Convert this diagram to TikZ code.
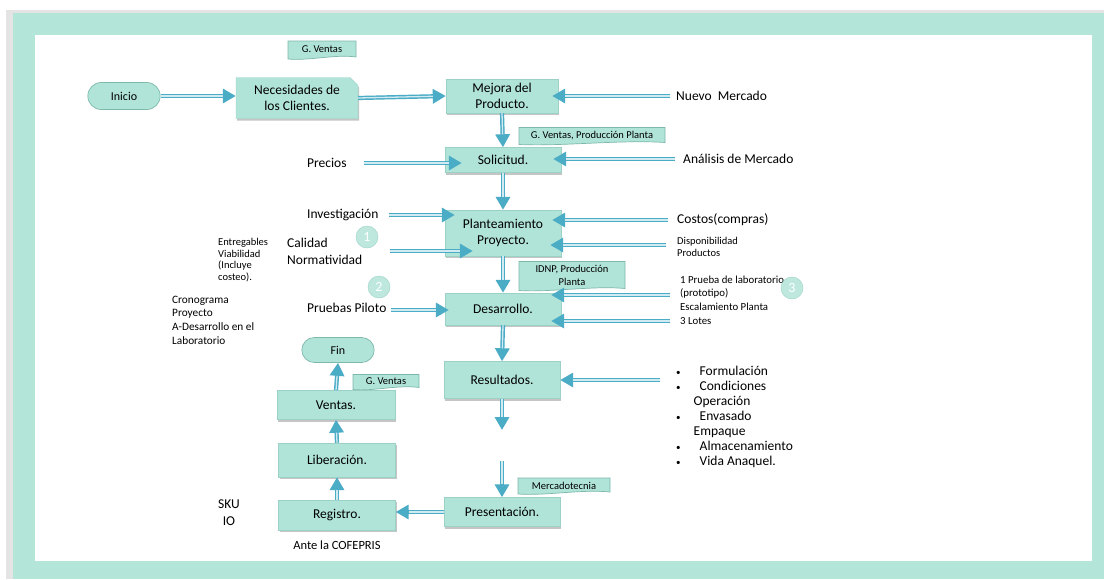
\documentclass[tikz,border=0pt]{standalone}
\usepackage{fontspec}
\setmainfont{Carlito}
\usetikzlibrary{arrows.meta, shadows, shapes.misc, calc}

\definecolor{frameteal}{HTML}{B3E5D9}
\definecolor{framegray}{HTML}{E4E4E4}
\definecolor{boxteal}{HTML}{B1E4D8}
\definecolor{boxline}{HTML}{9CD2C6}
\definecolor{tagline}{HTML}{7DB8AB}
\definecolor{arrowblue}{HTML}{4BACC6}

% note tag: name, x, y, half width, half height, text
\newcommand{\tagnote}[6]{%
  \filldraw[fill=boxteal, draw=tagline, line width=0.7pt]
    ({#2-#4},{#3-#5}) -- ({#2+#4},{#3-#5}) -- ({#2+#4},{#3+#5})
    .. controls ({#2+0.4*#4},{#3+#5-3}) and ({#2-0.4*#4},{#3+#5+4}) .. ({#2-#4},{#3+#5+2}) -- cycle;
  \node[tagtext] (#1) at (#2,{#3+0.5}) {#6};}

\begin{document}
\begin{tikzpicture}[x=1pt, y=-1pt,
    proc/.style={rectangle, fill=boxteal, draw=boxline, line width=0.4pt,
      minimum width=116pt, align=center, inner sep=2pt,
      font=\fontsize{13.5}{16}\selectfont,
      drop shadow={shadow xshift=1.2pt, shadow yshift=-2pt, fill=black!45, opacity=.5}},
    term/.style={rounded rectangle, fill=boxteal, draw=tagline, line width=0.7pt,
      font=\fontsize{12}{14}\selectfont},
    lbl/.style={inner sep=0pt, align=left, font=\fontsize{13.5}{17}\selectfont},
    small/.style={inner sep=0pt, align=left, font=\fontsize{10.5}{11.8}\selectfont},
    mid/.style={inner sep=0pt, align=left, font=\fontsize{11.3}{13.7}\selectfont},
    tagtext/.style={inner sep=0pt, align=center, font=\fontsize{10.5}{13}\selectfont},
    numcirc/.style={circle, minimum size=22pt, inner sep=0pt, fill=frameteal, fill opacity=.85,
      text opacity=1, draw=boxline, text=white, font=\fontsize{14}{14}\selectfont},
    flow/.style={draw=arrowblue, line width=4.2pt, -{Triangle[length=13pt, width=14pt]},
      postaction={draw=arrowblue!25, line width=1.3pt, -, shorten >=13pt}}]

    % Frame around the chart
    \useasboundingbox (0,0) rectangle (1104,579);
    \fill[white] (0,0) rectangle (1104,579);
    \fill[framegray] (6,10) rectangle (1104,579);
    \fill[frameteal] (13,13) rectangle (1104,579);
    \fill[white] (35,35) rectangle (1092,561);

    % Main column
    \node[term, minimum width=79pt, minimum height=27pt] (inicio) at (124,96) {Inicio};
    \node[proc, chamfered rectangle, chamfered rectangle corners=north east,
      chamfered rectangle xsep=4pt, chamfered rectangle ysep=4pt,
      minimum width=122pt, minimum height=41pt] (necesidades) at (297,98) {Necesidades de\\los Clientes.};
    \node[proc, minimum width=112pt, minimum height=34pt] (mejora) at (502,96) {Mejora del\\Producto.};
    \node[proc, minimum height=25pt] (solicitud) at (503,160) {Solicitud.};
    \node[proc, minimum height=46pt] (planteamiento) at (503,233) {Planteamiento\\Proyecto.};
    \node[proc, minimum height=32pt] (desarrollo) at (503,309) {Desarrollo.};
    \node[proc, minimum height=37pt] (resultados) at (502,380) {Resultados.};
    \node[proc, minimum height=29pt] (presentacion) at (502,512) {Presentación.};

    % Closing column
    \node[proc, minimum width=117pt, minimum height=30pt] (registro) at (337,515) {Registro.};
    \node[proc, minimum width=117pt, minimum height=34pt] (liberacion) at (337,460) {Liberación.};
    \node[proc, minimum width=118pt, minimum height=29pt] (ventas) at (336,405) {Ventas.};
    \node[term, minimum width=79pt, minimum height=25pt] (fin) at (338,350) {Fin};

    % Notes on the boxes
    \tagnote{gventasa}{322}{49}{34}{8}{G. Ventas}
    \tagnote{gventasb}{592}{135}{73}{7.5}{G. Ventas, Producción Planta}
    \tagnote{idnp}{572}{275}{53}{13.5}{IDNP, Producción\\Planta}
    \tagnote{gventasc}{386}{381}{33}{6.5}{G. Ventas}
    \tagnote{mercadotecnia}{564}{485}{46}{7}{Mercadotecnia}

    % Inputs on the left
    \node[lbl, anchor=west] (precios) at (307,163) {Precios};
    \node[lbl, anchor=west] (investigacion) at (307,215) {Investigación};
    \node[lbl, anchor=west] (calidad) at (287,251) {Calidad\\Normatividad};
    \node[lbl, anchor=west] (pruebas) at (307,308) {Pruebas Piloto};
    \node[small, anchor=west] (entregables) at (218,260) {Entregables\\Viabilidad\\(Incluye\\costeo).};
    \node[mid, anchor=west] (cronograma) at (172,320) {Cronograma\\Proyecto\\A-Desarrollo en el\\Laboratorio};
    \node[lbl, align=center] (sku) at (229,513) {SKU\\IO};
    \node[mid, font=\fontsize{12.5}{14}\selectfont] (ante) at (337,545) {Ante la COFEPRIS};

    % Inputs on the right
    \node[lbl, anchor=west] (nuevo) at (676,96) {Nuevo\ \ Mercado};
    \node[lbl, anchor=west] (analisis) at (683,159) {Análisis de Mercado};
    \node[lbl, anchor=west] (costos) at (677,220) {Costos(compras)};
    \node[small, anchor=west] (disponibilidad) at (677,247) {Disponibilidad\\Productos};
    \node[mid, anchor=west, font=\fontsize{10.8}{13.7}\selectfont] (laboratorio) at (680,300) {1 Prueba de laboratorio\\(prototipo)\\Escalamiento Planta\\3 Lotes};
    \node[lbl, anchor=west, font=\fontsize{13.5}{15}\selectfont] (lista) at (676,417) {%
      \begin{tabular}{@{}l@{\hspace{19pt}}l@{}}
        {\small\textbullet} & Formulación\\
        {\small\textbullet} & Condiciones\\
         & \hspace{-6pt}Operación\\
        {\small\textbullet} & Envasado\\
         & \hspace{-6pt}Empaque\\
        {\small\textbullet} & Almacenamiento\\
        {\small\textbullet} & Vida Anaquel.
      \end{tabular}};

    % Numbered steps
    \node[numcirc] (uno) at (367,237) {1};
    \node[numcirc] (dos) at (379,287) {2};
    \node[numcirc] (tres) at (792,288) {3};

    % Flow down the main column
    \draw[flow] (inicio.east) -- (inicio.east -| necesidades.west);
    \draw[flow] (necesidades.east) -- (mejora.west);
    \draw[flow] (mejora.south) -- (solicitud.north);
    \draw[flow] (solicitud.south) -- (planteamiento.north);
    \draw[flow] (planteamiento.south) -- (desarrollo.north);
    \draw[flow] (desarrollo.south) -- (resultados.north);
    \coordinate (resfin) at (502,430);
    \coordinate (presin) at (502,461);
    \draw[flow] (resultados.south) -- (resfin);
    \draw[flow] (presin) -- (presentacion.north);

    % Flow up the closing column
    \draw[flow] (presentacion.west) -- (presentacion.west -| registro.east);
    \draw[flow] (registro.north) -- (liberacion.south);
    \draw[flow] (liberacion.north) -- (ventas.south);
    \draw[flow] (ventas.north) -- (fin.south);

    % Side inputs
    \draw[flow] ([xshift=17pt]precios.east) -- ([xshift=17pt]precios.east -| solicitud.west);
    \draw[flow] ([xshift=10pt]investigacion.east) -- ([xshift=10pt]investigacion.east -| planteamiento.west);
    \draw[flow] ([xshift=28pt]calidad.east) -- ([xshift=28pt]calidad.east -| planteamiento.west);
    \draw[flow] ([xshift=4pt, yshift=-2pt]pruebas.east) -- ([xshift=4pt, yshift=-2pt]pruebas.east -| desarrollo.west);
    \draw[flow] ([xshift=-6pt]nuevo.west) -- ([xshift=-6pt]nuevo.west -| mejora.east);
    \draw[flow] ([xshift=-8pt]analisis.west) -- ([xshift=-8pt]analisis.west -| solicitud.east);
    \draw[flow] ([xshift=-9pt]costos.west) -- ([xshift=-9pt]costos.west -| planteamiento.east);
    \draw[flow] ([xshift=-11pt, yshift=2pt]disponibilidad.west) -- ([xshift=-11pt, yshift=2pt]disponibilidad.west -| planteamiento.east);
    \draw[flow] ([xshift=-10pt, yshift=5pt]laboratorio.west) -- ([xshift=-10pt, yshift=5pt]laboratorio.west -| desarrollo.east);
    \draw[flow] ([xshift=-10pt, yshift=-21pt]laboratorio.west) -- ([xshift=-10pt, yshift=-21pt]laboratorio.west -| desarrollo.east);
    \draw[flow] ([xshift=-16pt]lista.west |- resultados.east) -- (resultados.east);

\end{tikzpicture}
\end{document}
